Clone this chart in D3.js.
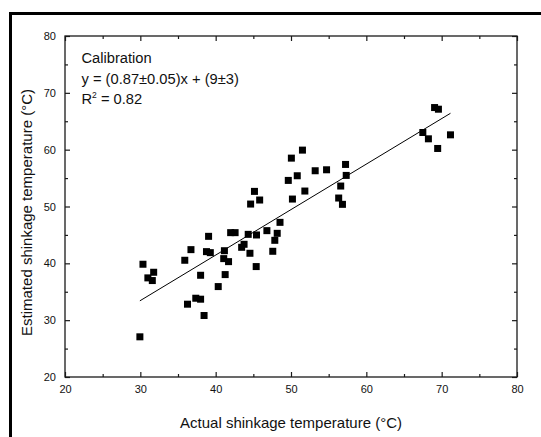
<!DOCTYPE html>
<html>
<head>
<meta charset="utf-8">
<script src="https://cdn.jsdelivr.net/npm/d3@7"></script>
<style>
  html, body { margin: 0; padding: 0; background: #fff; }
  svg { display: block; }
  text { font-family: "Liberation Sans", Arial, sans-serif; fill: #111; }
</style>
</head>
<body>
<svg id="chart" width="541" height="437"></svg>
<script>
// ---- data ----
const actualT = [29.94, 30.35, 31.0, 31.59, 31.77, 35.9, 36.72, 36.26, 37.36, 38.0,
  38.0, 38.46, 39.06, 38.78, 39.29, 40.34, 41.16, 41.07, 41.26, 41.71,
  41.99, 42.58, 43.45, 43.77, 44.32, 44.55, 44.64, 45.15, 45.42, 45.38,
  45.84, 46.8, 47.58, 47.85, 48.17, 48.54, 49.64, 50.05, 50.19, 50.83,
  51.52, 51.84, 53.21, 54.72, 56.33, 56.6, 56.83, 57.24, 57.33, 67.5,
  68.24, 69.06, 69.57, 69.47, 71.17];
const estimatedT = [27.07, 39.84, 37.44, 36.97, 38.43, 40.54, 42.41, 32.81, 33.86, 33.69,
  37.9, 30.82, 44.75, 42.06, 41.88, 35.91, 42.22, 40.83, 38.02, 40.3,
  45.4, 45.4, 42.82, 43.35, 45.1, 41.77, 50.43, 52.66, 44.99, 39.43,
  51.14, 45.75, 42.12, 44.05, 45.28, 47.21, 54.59, 58.51, 51.31, 55.41,
  59.92, 52.72, 56.29, 56.46, 51.49, 53.6, 50.38, 57.4, 55.47, 63.02,
  61.91, 67.41, 67.12, 60.21, 62.61];
const fitX = [29.94, 71.17];
const fitY = [33.4, 66.4];
const xTicks = [20, 30, 40, 50, 60, 70, 80];
const yTicks = [20, 30, 40, 50, 60, 70, 80];
const xMinor = [25, 35, 45, 55, 65, 75];
const yMinor = [25, 35, 45, 55, 65, 75];
const xTitle = "Actual shinkage temperature (°C)";
const yTitle = "Estimated shinkage temperature (°C)";
const noteLines = ["Calibration", "y = (0.87±0.05)x + (9±3)"];

// ---- layout ----
const svg = d3.select("#chart");
const L = 65, R = 517, T = 36, B = 377;
const x = d3.scaleLinear().domain([20, 80]).range([L, R]);
const y = d3.scaleLinear().domain([20, 80]).range([B, T]);

// outer partial frame (left + top thick lines)
svg.append("line").attr("x1", 10.5).attr("x2", 10.5).attr("y1", 12).attr("y2", 437)
  .attr("stroke", "#000").attr("stroke-width", 3);
svg.append("line").attr("x1", 9).attr("x2", 541).attr("y1", 13.5).attr("y2", 13.5)
  .attr("stroke", "#000").attr("stroke-width", 3);

const axisColor = "#1a1a1a";
function styleAxis(g) {
  g.select(".domain").remove();
  g.selectAll(".tick line").attr("stroke", axisColor).attr("stroke-width", 1.2);
  g.selectAll(".tick text").style("font-size", "11px").attr("fill", "#111");
}

// bottom axis: labels + major inward ticks
const gB = svg.append("g").attr("transform", `translate(0,${B})`)
  .call(d3.axisBottom(x).tickValues(xTicks).tickSize(-5).tickPadding(8).tickFormat(d3.format("d")));
styleAxis(gB);
const gBm = svg.append("g").attr("transform", `translate(0,${B})`)
  .call(d3.axisBottom(x).tickValues(xMinor).tickSize(-3).tickFormat(""));
styleAxis(gBm);
// top axis ticks
const gT = svg.append("g").attr("transform", `translate(0,${T})`)
  .call(d3.axisTop(x).tickValues(xTicks).tickSize(-5).tickFormat(""));
styleAxis(gT);
const gTm = svg.append("g").attr("transform", `translate(0,${T})`)
  .call(d3.axisTop(x).tickValues(xMinor).tickSize(-3).tickFormat(""));
styleAxis(gTm);
// left axis
const gL = svg.append("g").attr("transform", `translate(${L},0)`)
  .call(d3.axisLeft(y).tickValues(yTicks).tickSize(-5).tickPadding(9).tickFormat(d3.format("d")));
styleAxis(gL);
const gLm = svg.append("g").attr("transform", `translate(${L},0)`)
  .call(d3.axisLeft(y).tickValues(yMinor).tickSize(-3).tickFormat(""));
styleAxis(gLm);
// right axis
const gR = svg.append("g").attr("transform", `translate(${R},0)`)
  .call(d3.axisRight(y).tickValues(yTicks).tickSize(-5).tickFormat(""));
styleAxis(gR);
const gRm = svg.append("g").attr("transform", `translate(${R},0)`)
  .call(d3.axisRight(y).tickValues(yMinor).tickSize(-3).tickFormat(""));
styleAxis(gRm);

// plot frame
svg.append("rect").attr("x", L).attr("y", T).attr("width", R - L).attr("height", B - T)
  .attr("fill", "none").attr("stroke", axisColor).attr("stroke-width", 1.3);

// fit line
svg.append("path")
  .datum(fitX.map((d, i) => [d, fitY[i]]))
  .attr("d", d3.line().x(d => x(d[0])).y(d => y(d[1])))
  .attr("stroke", "#000").attr("stroke-width", 1).attr("fill", "none");

// points
const s = 7;
svg.append("g").selectAll("rect").data(actualT.map((d, i) => [d, estimatedT[i]]))
  .join("rect")
  .attr("x", d => x(d[0]) - s / 2).attr("y", d => y(d[1]) - s / 2)
  .attr("width", s).attr("height", s).attr("fill", "#000");

// annotation
const noteX = 81.5;
noteLines.forEach((t, i) => {
  svg.append("text").attr("x", noteX).attr("y", 63 + i * 20.5)
    .style("font-size", "14.7px").text(t);
});
const r2 = svg.append("text").attr("x", noteX).attr("y", 104).style("font-size", "14.7px");
r2.append("tspan").text("R");
r2.append("tspan").attr("dy", -6.5).style("font-size", "8.5px").text("2");
r2.append("tspan").attr("dy", 6.5).text(" = 0.82");

// axis titles
svg.append("text").attr("x", (L + R) / 2).attr("y", 427.5).attr("text-anchor", "middle")
  .style("font-size", "15px").text(xTitle);
svg.append("text").attr("transform", `translate(32,${(T + B) / 2 + 6}) rotate(-90)`)
  .attr("text-anchor", "middle").style("font-size", "15px").text(yTitle);
</script>
</body>
</html>
